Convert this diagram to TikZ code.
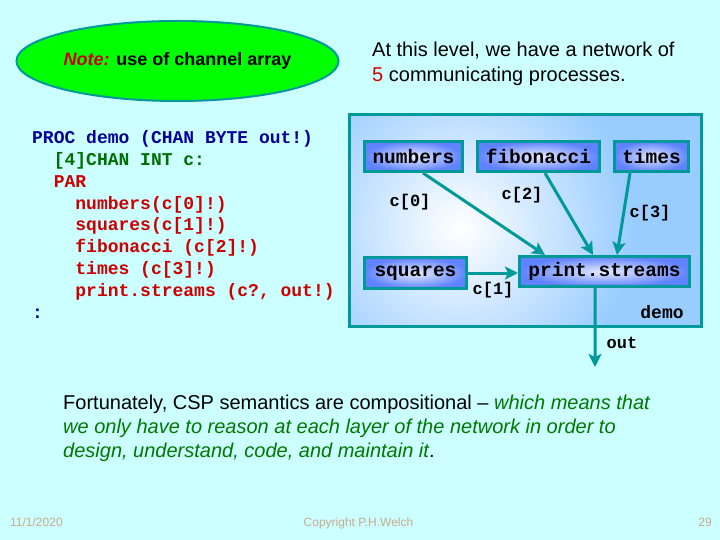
\documentclass[tikz,border=0pt]{standalone}
\usepackage{fontspec}
\setmainfont{Liberation Sans}
\setmonofont{Liberation Mono}
\usetikzlibrary{arrows.meta,shapes.geometric}
\definecolor{bg}{RGB}{204,255,255}
\definecolor{tealc}{RGB}{0,153,153}
\definecolor{boxblue}{RGB}{153,204,255}
\definecolor{nodeblue}{RGB}{95,130,255}
\definecolor{nodelight}{RGB}{230,236,255}
\definecolor{codeblue}{RGB}{0,0,150}
\definecolor{codegreen}{RGB}{0,110,0}
\definecolor{codered}{RGB}{204,0,0}
\definecolor{footc}{RGB}{200,170,140}
\definecolor{txtgreen}{RGB}{0,120,0}
\definecolor{notegreen}{RGB}{0,255,0}
\begin{document}
\begin{tikzpicture}[x=1bp,y=-1bp,
  proc/.style={draw=tealc, line width=3bp, inner color=nodelight, outer color=nodeblue,
    minimum height=30bp, inner sep=0pt, font=\fontsize{19.5bp}{20bp}\ttfamily\bfseries},
  lbl/.style={font=\fontsize{17bp}{18bp}\ttfamily\bfseries, inner sep=0pt},
  chan/.style={draw=tealc, line width=3bp, -{Stealth[length=13bp,width=13bp,inset=3bp]}},
  codeline/.style={anchor=base west, inner sep=0pt, font=\fontsize{18bp}{20bp}\ttfamily\bfseries},
  sansline/.style={anchor=base west, inner sep=0pt, font=\fontsize{20bp}{24bp}\selectfont},
  foot/.style={inner sep=0pt, text=footc, font=\fontsize{12bp}{14bp}\selectfont},
  ]
\fill[bg] (0,0) rectangle (720,540);
\useasboundingbox (0,0) rectangle (720,540);

% note ellipse
\node[ellipse, draw=tealc, line width=2bp, fill=notegreen, minimum width=287bp,
  minimum height=80bp, inner sep=0pt, font=\fontsize{18bp}{20bp}\bfseries] (note) at (177.5,61)
  {{\color{codered}\itshape Note:} use of channel array};

% top-right text
\node[sansline] (t1) at (372,57) {At this level, we have a network of};
\node[sansline] (t2) at (372,82) {{\color{codered}5} communicating processes.};

% code
\node[codeline, text=codeblue] (c1) at (32,144) {PROC demo (CHAN BYTE out!)};
\node[codeline, text=codegreen] (c2) at (53.6,165.75) {[4]CHAN INT c:};
\node[codeline, text=codered] (c3) at (53.6,187.5) {PAR};
\node[codeline, text=codered] (c4) at (75.2,209.25) {numbers(c[0]!)};
\node[codeline, text=codered] (c5) at (75.2,231) {squares(c[1]!)};
\node[codeline, text=codered] (c6) at (75.2,252.75) {fibonacci (c[2]!)};
\node[codeline, text=codered] (c7) at (75.2,274.5) {times (c[3]!)};
\node[codeline, text=codered] (c8) at (75.2,296.25) {print.streams (c?, out!)};
\node[codeline, text=codeblue] (c9) at (32,318) {:};

% demo box
\begin{scope}
  \clip (349.5,114.5) rectangle (701.5,326.5);
  \fill[boxblue] (349.5,114.5) rectangle (701.5,326.5);
  \shade[inner color=white, outer color=boxblue] (460,228) circle (175bp);
\end{scope}
\node[draw=tealc, line width=3bp, minimum width=352bp, minimum height=212bp, inner sep=0pt] (demobox) at (525.5,220.5) {};

% processes
\node[proc, minimum width=98bp] (numbers) at (413.5,156.5) {numbers};
\node[proc, minimum width=122bp] (fib) at (538.5,156.5) {fibonacci};
\node[proc, minimum width=74bp] (times) at (651.5,156.5) {times};
\node[proc, minimum width=102bp, minimum height=31bp] (squares) at (415.5,273) {squares};
\node[proc, minimum width=170bp] (ps) at (604.5,271.5) {print.streams};

\coordinate (outend) at (595,367);

% channels
\draw[chan] ([xshift=9.5bp]numbers.south) -- ([xshift=-59.5bp]ps.north);
\draw[chan] ([xshift=6.5bp]fib.south) -- ([xshift=-11.5bp]ps.north);
\draw[chan] ([xshift=-21.5bp]times.south) -- ([xshift=12.5bp]ps.north);
\draw[chan] (squares.east) -- (squares.east -| ps.west);
\draw[chan] ([xshift=-9.5bp]ps.south) -- (outend);

% labels
\node[lbl] (l0) at (410,202) {c[0]};
\node[lbl] (l2) at (522,195) {c[2]};
\node[lbl] (l3) at (650,213) {c[3]};
\node[lbl] (l1) at (493,290) {c[1]};
\node[lbl, font=\fontsize{18bp}{18bp}\ttfamily\bfseries] (ldemo) at (662,312) {demo};
\node[lbl] (lout) at (622,343) {out};

% bottom text
\node[sansline] (b1) at (63,409) {Fortunately, CSP semantics are compositional -- {\color{txtgreen}\itshape which means that}};
\node[sansline, text=txtgreen] (b2) at (63,433) {\itshape we only have to reason at each layer of the network in order to};
\node[sansline] (b3) at (63,457) {{\color{txtgreen}\itshape design, understand, code, and maintain it}.};

% footer
\node[foot, anchor=base west] (f1) at (10,526) {11/1/2020};
\node[foot, anchor=base] (f2) at (358.5,526) {Copyright P.H.Welch};
\node[foot, anchor=base east] (f3) at (712,526) {29};
\end{tikzpicture}
\end{document}
